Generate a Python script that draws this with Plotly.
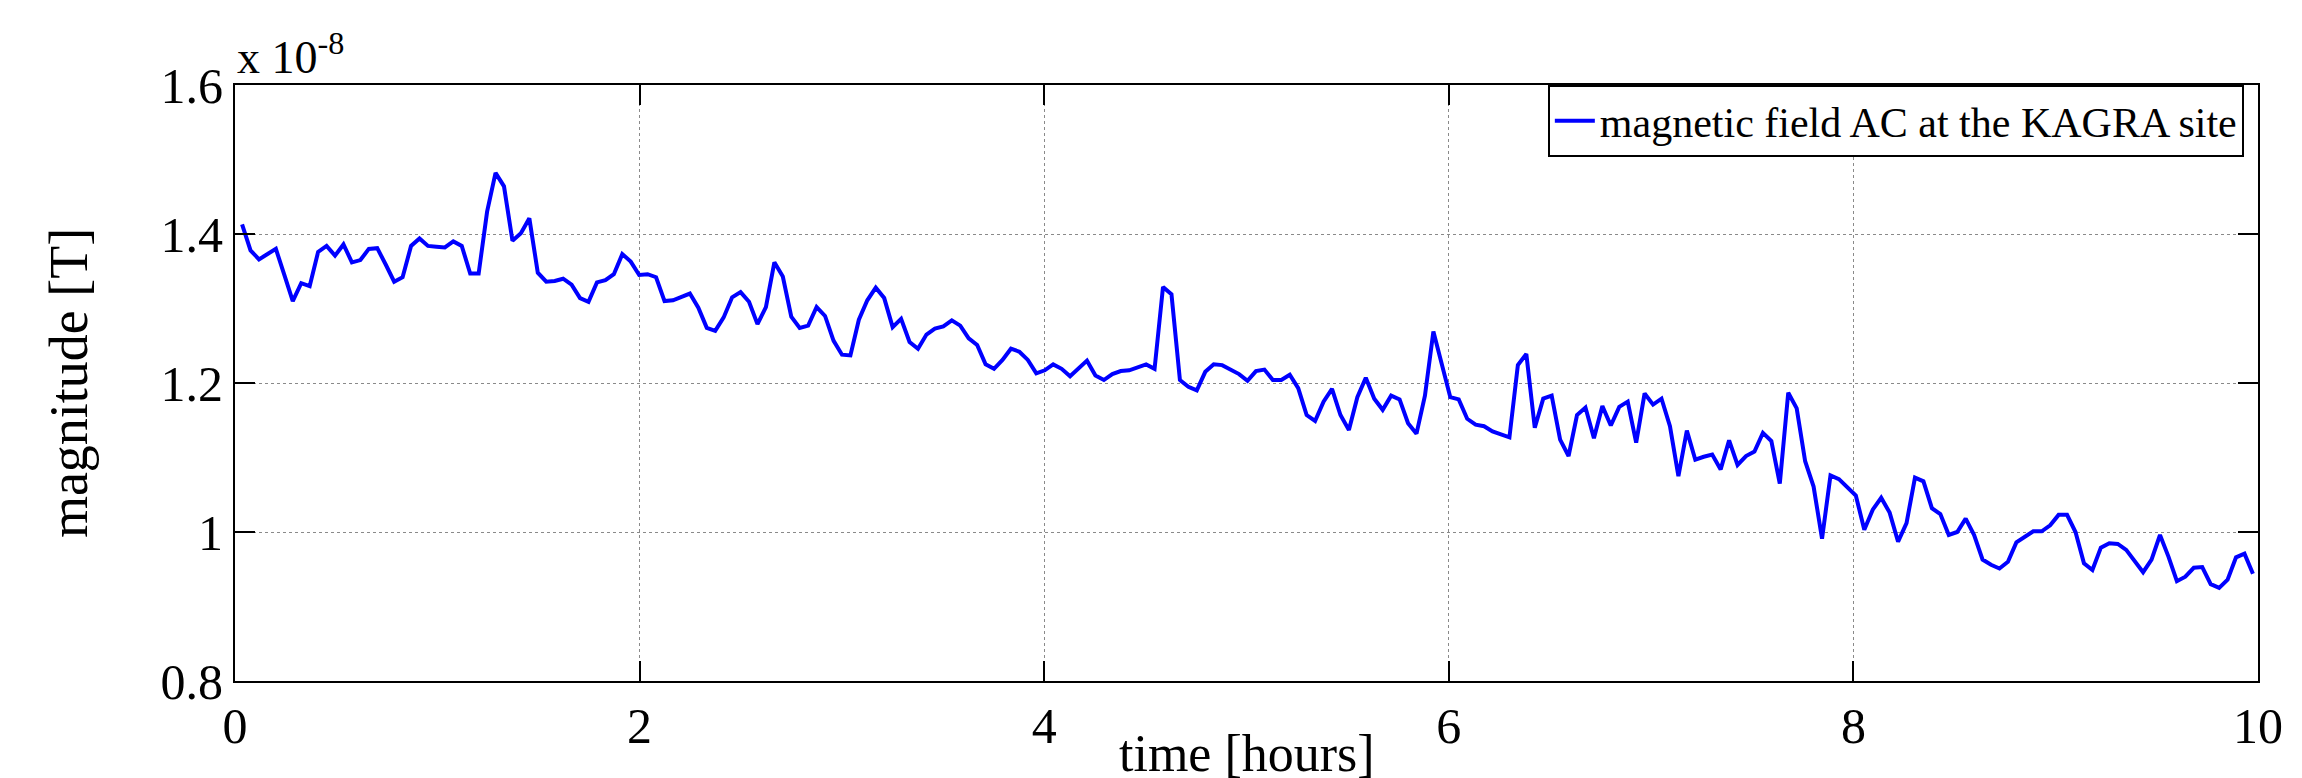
import numpy as np
import plotly.graph_objects as go

time_first_h = 0.035
time_last_h = 9.975

# Magnetic field magnitude, in units of 1e-8 T
magnitude_e8_T = [
    1.413, 1.378, 1.366, 1.373, 1.380, 1.345, 1.310, 1.334, 1.330, 1.376,
    1.384, 1.371, 1.386, 1.362, 1.365, 1.380, 1.381, 1.359, 1.336, 1.342,
    1.384, 1.394, 1.384, 1.383, 1.382, 1.390, 1.384, 1.347, 1.347, 1.430,
    1.482, 1.464, 1.391, 1.401, 1.421, 1.348, 1.336, 1.337, 1.340, 1.332,
    1.314, 1.309, 1.335, 1.338, 1.346, 1.373, 1.363, 1.345, 1.346, 1.342,
    1.310, 1.311, 1.315, 1.320, 1.301, 1.274, 1.270, 1.288, 1.315, 1.322,
    1.309, 1.279, 1.302, 1.362, 1.343, 1.289, 1.274, 1.277, 1.302, 1.290,
    1.257, 1.238, 1.237, 1.285, 1.311, 1.328, 1.314, 1.275, 1.286, 1.255,
    1.246, 1.265, 1.273, 1.276, 1.284, 1.277, 1.260, 1.251, 1.225, 1.219,
    1.231, 1.246, 1.242, 1.231, 1.213, 1.217, 1.225, 1.219, 1.209, 1.220,
    1.230, 1.210, 1.204, 1.212, 1.216, 1.217, 1.221, 1.225, 1.219, 1.329,
    1.319, 1.204, 1.195, 1.190, 1.215, 1.225, 1.224, 1.218, 1.212, 1.203,
    1.216, 1.218, 1.204, 1.204, 1.211, 1.193, 1.157, 1.149, 1.175, 1.192,
    1.157, 1.137, 1.181, 1.207, 1.179, 1.164, 1.183, 1.178, 1.146, 1.132,
    1.183, 1.269, 1.225, 1.181, 1.178, 1.152, 1.144, 1.142, 1.135, 1.131,
    1.127, 1.224, 1.239, 1.140, 1.179, 1.183, 1.124, 1.102, 1.157, 1.167,
    1.126, 1.169, 1.143, 1.168, 1.175, 1.120, 1.186, 1.171, 1.179, 1.142,
    1.075, 1.136, 1.097, 1.101, 1.104, 1.084, 1.123, 1.090, 1.102, 1.108,
    1.133, 1.122, 1.065, 1.187, 1.166, 1.095, 1.061, 0.991, 1.076, 1.071,
    1.060, 1.049, 1.003, 1.030, 1.046, 1.026, 0.987, 1.012, 1.073, 1.068,
    1.032, 1.024, 0.996, 1.000, 1.018, 0.996, 0.963, 0.956, 0.951, 0.960,
    0.986, 0.993, 1.001, 1.001, 1.009, 1.023, 1.023, 1.000, 0.958, 0.949,
    0.979, 0.985, 0.984, 0.976, 0.962, 0.946, 0.963, 0.996, 0.967, 0.934,
    0.940, 0.952, 0.953, 0.930, 0.925, 0.936, 0.966, 0.971, 0.944,
]

time_h = np.linspace(time_first_h, time_last_h, len(magnitude_e8_T))

x_tickvals = [0, 2, 4, 6, 8, 10]
x_ticktext = ["0", "2", "4", "6", "8", "10"]
y_tickvals = [0.8, 1.0, 1.2, 1.4, 1.6]
y_ticktext = ["0.8", "1", "1.2", "1.4", "1.6"]

series_name = "magnetic field AC at the KAGRA site"
x_title = "time [hours]"
y_title = "magnitude [T]"
exponent_text = "x 10<sup>-8</sup>"

FONT = "Liberation Serif"

fig = go.Figure()
fig.add_trace(go.Scatter(
    x=time_h, y=magnitude_e8_T, mode="lines", name=series_name,
    line=dict(color="#0000FF", width=4),
))

axis_common = dict(
    showline=True, linecolor="black", linewidth=2, mirror="ticks",
    ticks="inside", ticklen=20, tickwidth=2, tickcolor="black",
    showgrid=True, gridcolor="#8a8a8a", gridwidth=1, griddash="dot",
    zeroline=False, tickfont=dict(family=FONT, size=50, color="black"),
)

fig.update_layout(
    width=2302, height=778,
    margin=dict(l=227, r=52, t=77, b=105),
    paper_bgcolor="white", plot_bgcolor="white",
    font=dict(family=FONT, color="black"),
    showlegend=True,
    legend=dict(
        x=0.993, xanchor="right", y=1.0, yanchor="top",
        bgcolor="white", bordercolor="black", borderwidth=2,
        font=dict(family=FONT, size=42, color="black"),
        itemwidth=40,
    ),
    xaxis=dict(
        range=[0, 10], tickvals=x_tickvals, ticktext=x_ticktext,
        **axis_common,
    ),
    yaxis=dict(
        range=[0.8, 1.6], tickvals=y_tickvals, ticktext=y_ticktext,
        **axis_common,
    ),
)

# axis titles (placed as paper annotations so they sit where the reference has them)
fig.add_annotation(
    text=x_title, xref="paper", yref="paper", x=0.5, y=-0.172,
    xanchor="center", yanchor="bottom", showarrow=False,
    font=dict(family=FONT, size=52, color="black"),
)
fig.add_annotation(
    text=y_title, xref="paper", yref="paper", x=-0.082, y=0.5,
    xanchor="center", yanchor="middle", textangle=-90, showarrow=False,
    font=dict(family=FONT, size=54, color="black"),
)
fig.add_annotation(
    text=exponent_text, xref="paper", yref="paper", x=0, y=1,
    xanchor="left", yanchor="bottom", showarrow=False,
    font=dict(family=FONT, size=46, color="black"),
)

fig.write_html("out.html")
